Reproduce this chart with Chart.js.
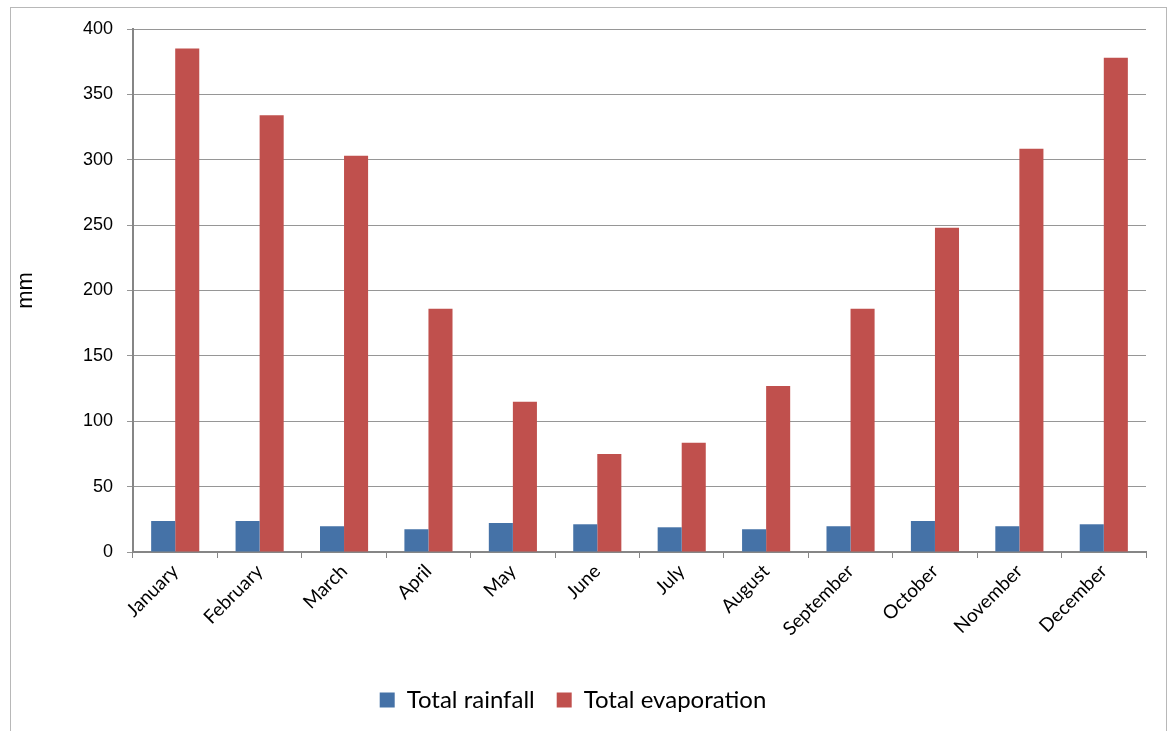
<!DOCTYPE html>
<html>
<head>
<meta charset="utf-8">
<script src="https://cdn.jsdelivr.net/npm/chart.js@4/dist/chart.umd.min.js"></script>
<style>
  body { margin: 0; background: #fff; }
  #wrap { position: relative; width: 1172px; height: 731px; overflow: hidden; }
  #frame { position: absolute; left: 10px; top: 7px; width: 1155px; height: 740px; border: 1px solid #b8b8b8; }
  #myChart { position: absolute; left: 0; top: 0; }
</style>
</head>
<body>
<div id="wrap">
  <div id="frame"></div>
  <canvas id="myChart" width="1172" height="731"></canvas>
</div>
<script>
  // months on the x axis
  var months = ["January", "February", "March", "April", "May", "June",
                "July", "August", "September", "October", "November", "December"];

  // values in mm
  var rainfall = [23.7, 23.7, 19.7, 17.4, 22.2, 21.2, 18.9, 17.4, 19.7, 23.7, 19.7, 21.2];
  var evaporation = [385, 334, 303, 186, 115, 75, 83.5, 127, 186, 248, 308.5, 378];

  var yTicks = [0, 50, 100, 150, 200, 250, 300, 350, 400];

  var gridColor = "#969696";
  var axisColor = "#868686";

  var config = {
    type: "bar",
    data: {
      labels: months,
      datasets: [
        {
          label: "Total rainfall",
          data: rainfall,
          backgroundColor: "#4572A7",
          borderWidth: 0
        },
        {
          label: "Total evaporation",
          data: evaporation,
          backgroundColor: "#C0504D",
          borderWidth: 0
        }
      ]
    },
    options: {
      responsive: false,
      animation: false,
      layout: {
        padding: { left: 0, top: 29, right: 26, bottom: 9 }
      },
      datasets: {
        bar: { categoryPercentage: 0.57, barPercentage: 1.0 }
      },
      scales: {
        x: {
          grid: {
            display: true,
            drawOnChartArea: false,
            drawTicks: true,
            tickLength: 6,
            color: axisColor,
            offset: true
          },
          border: { color: axisColor, width: 2 },
          ticks: {
            minRotation: 45,
            maxRotation: 45,
            padding: 2,
            color: "#000",
            font: { family: "Lato, 'Open Sans', sans-serif", size: 19 }
          },
          afterFit: function(scale) { scale.height = 114; }
        },
        y: {
          min: 0,
          max: 400,
          afterBuildTicks: function(scale) {
            scale.ticks = yTicks.map(function(v) { return { value: v }; });
          },
          grid: {
            color: gridColor,
            lineWidth: 1,
            tickLength: 6,
            drawTicks: true
          },
          border: { color: axisColor, width: 2 },
          ticks: {
            padding: 14,
            color: "#000",
            font: { family: "'Liberation Sans', Arial, sans-serif", size: 18 }
          },
          title: {
            display: true,
            text: "mm",
            color: "#000",
            padding: { top: 13, bottom: 0 },
            font: { family: "'Liberation Sans', Arial, sans-serif", size: 22 }
          },
          afterFit: function(scale) { scale.width = 133; }
        }
      },
      plugins: {
        legend: {
          position: "bottom",
          labels: {
            boxWidth: 15,
            boxHeight: 15,
            padding: 22,
            color: "#000",
            font: { family: "Lato, 'Open Sans', sans-serif", size: 24 }
          }
        },
        tooltip: { enabled: false }
      }
    }
  };

  var ctx = document.getElementById("myChart");
  window.rainChart = new Chart(ctx, config);
</script>
</body>
</html>
